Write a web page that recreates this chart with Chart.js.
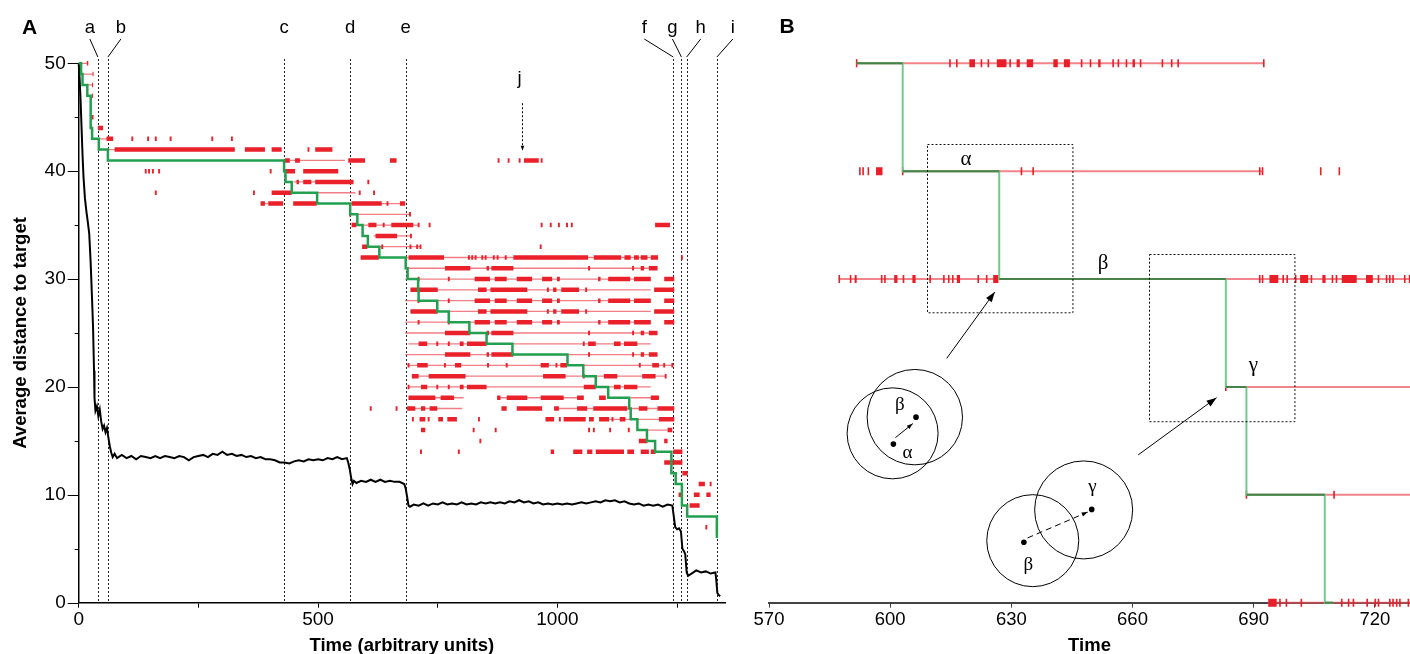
<!DOCTYPE html>
<html>
<head>
<meta charset="utf-8">
<script src="https://cdn.jsdelivr.net/npm/chart.js@4.4.1/dist/chart.umd.min.js"></script>
<style>
body { margin: 0; background: #fff; }
#wrapA { position: absolute; left: 0; top: 0; width: 740px; height: 654px; }
#wrapB { position: absolute; left: 740px; top: 0; width: 670px; height: 654px; }
</style>
</head>
<body>
<div id="wrapA"><canvas id="chartA" width="740" height="654"></canvas></div>
<div id="wrapB"><canvas id="chartB" width="670" height="654"></canvas></div>
<script>
//////// DATA, PANEL A ///////////////////////////////////
// average distance to target, [time, distance]
var traceA = [[0,50],[2,48.5],[4,46.5],[6,44],[8,41.5],[10,39.5],[13,37.5],[16,36.3],[19,35.3],[22,34.2],[25,31.5],[28,28],[30,25.5],[32,21.5],[33,19],[35,17.8],[38,18.2],[41,17.3],[44,17.9],[47,16.8],[50,16.1],[53,16.4],[56,15.8],[59,16.2],[62,15.3],[65,14.5],[68,13.9],[71,13.5],[75,13.8],
  [80,13.4],[90,13.7],[100,13.4],[110,13.6],[120,13.3],[130,13.6],[140,13.5],[150,13.4],[160,13.6],[170,13.4],[180,13.6],[190,13.5],[200,13.4],[210,13.6],[220,13.5],[230,13.2],[240,13.5],[250,13.6],[260,13.7],[270,13.5],[280,13.8],[290,13.7],[300,14.0],[310,13.7],[320,13.8],[330,13.6],[340,13.7],[350,13.5],[360,13.6],[370,13.4],[380,13.5],[390,13.3],[400,13.3],[410,13.2],[420,13.0],[430,13.0],[440,12.9],[450,13.1],[460,13.2],[470,13.1],[480,13.3],[490,13.2],[500,13.3],[510,13.2],[520,13.4],[530,13.3],[540,13.5],[550,13.3],[560,13.4],[563,13.0],[566,12.4],[569,11.6],[572,11.0],[575,11.3],
  [580,11.1],[590,11.3],[600,11.2],[610,11.4],[620,11.2],[630,11.4],[640,11.2],[650,11.3],[660,11.2],[670,11.2],[680,11.0],[683,10.6],[686,9.8],[689,9.0],[692,8.9],
  [700,9.1],[710,9.0],[720,9.2],[730,9.0],[740,9.2],[750,9.1],[760,9.3],[770,9.1],[780,9.2],[790,9.1],[800,9.3],[810,9.1],[820,9.2],[830,9.1],[840,9.3],[850,9.2],[860,9.3],[870,9.2],[880,9.3],[890,9.2],[900,9.4],[910,9.3],[920,9.5],[930,9.3],[940,9.4],[950,9.2],[960,9.3],[970,9.1],[980,9.2],[990,9.1],[1000,9.2],[1010,9.1],[1020,9.2],[1030,9.1],[1040,9.2],[1050,9.3],[1060,9.2],[1070,9.3],[1080,9.4],[1090,9.3],[1100,9.5],[1110,9.4],[1120,9.5],[1130,9.3],[1140,9.4],[1150,9.2],[1160,9.1],[1170,9.2],[1180,9.0],[1190,9.1],[1200,9.0],[1210,9.1],[1220,8.9],[1230,9.1],[1240,9.0],
  [1243,8.0],[1246,7.0],[1250,6.8],[1254,6.9],[1258,6.6],[1261,5.0],[1264,4.8],[1267,4.5],[1270,2.8],[1273,2.5],[1280,2.7],[1290,3.0],[1300,2.8],[1310,2.9],[1320,2.7],[1330,2.8],[1332,2.0],[1334,0.9],[1337,0.7],[1340,0.6]];

// best lineage (green): times of change and new level
var stepTimeA  = [0,5,8,18,25,28,42,61,429,432,445,498,567,582,593,604,628,683,687,709,710,749,773,816,852,906,1021,1054,1080,1106,1150,1153,1167,1187,1204,1238,1247,1260,1271,1333];
var stepLevelA = [50,49,48,47,44,43,42,41,40,39,38,37,36,35,34,33,32,31,30,29,28,27,26,25,24,23,22,21,20,19,18,17,16,15,14,12,11,9,8,6];

// red lineages: [level, start, end]
var linesA = [[50,0,19],[49,0,30],[48,7,30],[43,28,72],[42,40,326],[41,441,556],[40,469,542],[39,449,574],[38,442,578],[37,380,427],[37,567,682],[36,567,692],[35,571,710],[34,616,694],[33,592,714],[32,589,627],[32,683,1210],[31,682,1209],[30,682,1195],[29,693,1195],[28,682,1195],[27,693,1195],[26,682,1195],[25,682,1209],[24,689,1195],[23,682,1209],[22,686,1240],[21,696,1226],[20,689,1195],[19,689,804],[19,874,1055],[19,1153,1212],[18,686,801],[18,993,1244],[17,1108,1244],[16,1167,1230]];

// red marks: [level, [time or [from, to], ...]]
var marksA = [
  [50,[[17,20]]],
  [49,[[29,31]]],
  [48,[[28,30]]],
  [47,[[28,30]]],
  [45,[29]],
  [44,[[40,51]]],
  [43,[[58,72],112,145,161,192,279,320]],
  [42,[[75,326],[347,389],[403,424],480,[494,530]]],
  [41,[[431,441],[452,462],[563,598],[650,664],877,898,921,[930,961],967]],
  [40,[140,147,155,168,401,[431,452],[469,542]]],
  [39,[[455,460],[469,486],[494,574],605]],
  [38,[161,366,[403,445],587,617]],
  [37,[[380,389],[396,427],[448,497],[570,633],[643,647],[671,682]]],
  [36,[567,692]],
  [35,[[570,580],[605,622],637,[653,699],710,733,967,986,1003,1020,1030,[1204,1235]]],
  [34,[[620,665],694]],
  [33,[[592,603],634,693,707,714,965]],
  [32,[[589,627],[689,763],815,822,829,843,850,867,875,892,[908,1064],[1076,1133],[1140,1153],[1160,1170],[1174,1188],[1195,1210],1260]],
  [31,[[765,818],[852,857],[862,908],1066,1158,[1174,1181],[1191,1209]]],
  [30,[710,773,[827,859],[869,894],[915,947],[968,989],[999,1005],[1085,1090],[1106,1152],[1160,1195],[1223,1244]]],
  [29,[[693,750],[834,852],[860,937],980,[991,998],[1008,1045],1060,[1202,1244]]],
  [28,[710,773,[827,859],[869,894],[915,947],[968,989],[999,1005],[1085,1090],[1106,1152],[1160,1195],[1223,1244]]],
  [27,[[693,750],[834,852],[860,937],980,[991,998],[1008,1045],1060,[1202,1244]]],
  [26,[710,773,[827,859],[869,894],[915,947],[968,989],[999,1005],[1085,1090],[1106,1152],[1160,1195],[1223,1244]]],
  [25,[[765,818],[852,857],[862,908],1066,1158,[1174,1181],[1191,1209]]],
  [24,[[710,728],749,773,[796,804],[811,852],1055,[1064,1080],[1118,1132],[1139,1167]]],
  [23,[[765,818],[852,857],[862,908],1066,1158,[1174,1181],[1191,1209]]],
  [22,[689,[707,729],765,[786,799],855,894,[965,982],[996,1000],[1006,1020],1172,[1198,1212],1223,1240]],
  [21,[[696,710],[731,808],[970,1017],1055,[1097,1125],[1177,1205],1226]],
  [20,[689,[715,728],749,773,[796,804],[811,852],[1055,1080],[1118,1132],[1139,1167]]],
  [19,[[689,745],[756,784],[874,881],[894,937],[965,1013],[1041,1055],[1087,1101],[1195,1212]]],
  [18,[610,664,[686,703],[715,724],[733,749],[883,894],[915,968],[993,1003],[1041,1062],[1075,1146],[1170,1188],[1209,1244]]],
  [17,[698,[712,724],731,[751,761],[770,790],836,[975,993],1005,[1013,1059],[1066,1076],[1087,1108],1115,[1130,1142],[1212,1244]]],
  [16,[[715,724],825,871,1066,1076,1110,1149,[1230,1240]]],
  [15,[839,[1170,1188],[1223,1230]]],
  [14,[715,794,[986,993],[1033,1052],[1062,1073],[1080,1139],[1146,1160],[1174,1191],[1195,1205],[1242,1261]]],
  [13,[[1223,1261]]],
  [12,[[1261,1272]]],
  [11,[[1295,1308],1320]],
  [10,[[1253,1260],[1285,1297],[1311,1320]]],
  [9,[[1276,1297]]],
  [7,[1311,1333]]
];

var eventTimes = [40, 61, 429, 567, 683, 1242, 1259, 1270, 1333];
var eventNames = ['a', 'b', 'c', 'd', 'e', 'f', 'g', 'h', 'i'];
var eventShift = [-8, 13, 0, 0, 0, -29, -9, 14, 16];   // label offset from its line, px
var jTime = 927;

//////// DATA, PANEL B ///////////////////////////////////
var stepTimeB  = [591.7, 603.1, 627.0, 683.1, 688.2, 707.6, 709.7];
var stepLevelB = [50, 40, 30, 20, 10, 0, 0];

var linesB = [[50,591.7,692.5],[40,603.1,692.2],[30,587.2,729],[20,683.1,729],[10,688.2,729],[0,693.6,729]];

var marksB = [
  [50,[591.7,614.8,616.5,[619.6,621.0],622.6,624.3,[626.4,628.8],629.7,[631.3,632.1],[633.8,635.4],[640.4,641.5],[643.0,644.5],647.4,649.6,[651.5,652.1],655.2,656.5,658.5,[660,660.6],662.0,667.4,669.7,671.3,692.5]],
  [40,[592.5,593.3,594.6,[596.5,598.1],603.1,632.5,635.4,691.5,692.2,706.6,711.2]],
  [30,[[587.2,587.6],590.2,[591.2,591.7],597.9,598.7,601.2,601.6,603.3,605.7,606.1,609.9,613.3,614.5,615.5,[616.5,617.3],621.8,623.9,[625.5,626.8],691.5,692.2,[693.9,696.1],697.3,698.3,700.4,[701.5,703.5],704.3,707.2,707.6,709.5,710.5,[711.8,715.5],[717.8,719.5],720.9,722.9,723.7,724.5,727.4,728.6]],
  [20,[683.1]],
  [10,[688.2,709.9]],
  [0,[[693.6,695.7],696.5,698.1,701.8,711.8,713.5,714.7,718.1,720.1,720.9,723.7,724.5,725.4,726.2,728.3]]
];

// dotted boxes [x0, x1, yTop, yBottom] and their labels
var boxesB = [[609.2, 645.2, 42.5, 26.9], [664.1, 700.1, 32.3, 16.8]];
var greekB = [['α', 618.8, 41.1], ['β', 652.7, 31.4], ['γ', 689.9, 22.0]];

//////// HELPERS ///////////////////////////////////
function segData(rows) {
    var out = [];
    rows.forEach(function(r) {
        out.push({x: r[1], y: r[0]}, {x: r[2], y: r[0]}, {x: r[2], y: null});
    });
    return out;
}
function markData(rows, half) {
    var out = [];
    rows.forEach(function(r) {
        r[1].forEach(function(m) {
            var a = Array.isArray(m) ? m[0] : m - half;
            var b = Array.isArray(m) ? m[1] : m + half;
            out.push({x: a, y: r[0]}, {x: b, y: r[0]}, {x: b, y: null});
        });
    });
    return out;
}
function stepData(t, v) {
    return t.map(function(x, i) { return {x: x, y: v[i]}; });
}
function arrow(ctx, x0, y0, x1, y1, dash, head) {
    ctx.save();
    ctx.strokeStyle = '#000';
    ctx.fillStyle = '#000';
    ctx.lineWidth = 1;
    if (dash) ctx.setLineDash(dash);
    ctx.beginPath(); ctx.moveTo(x0, y0); ctx.lineTo(x1, y1); ctx.stroke();
    ctx.setLineDash([]);
    var a = Math.atan2(y1 - y0, x1 - x0), h = head || 9;
    ctx.beginPath();
    ctx.moveTo(x1, y1);
    ctx.lineTo(x1 - h * Math.cos(a) + h * 0.35 * Math.sin(a), y1 - h * Math.sin(a) - h * 0.35 * Math.cos(a));
    ctx.lineTo(x1 - h * Math.cos(a) - h * 0.35 * Math.sin(a), y1 - h * Math.sin(a) + h * 0.35 * Math.cos(a));
    ctx.closePath(); ctx.fill();
    ctx.restore();
}

var FONT = "'Liberation Sans', Arial, sans-serif";
var GREEK = "'Liberation Serif', 'DejaVu Serif', serif";
Chart.defaults.font.family = FONT;
Chart.defaults.color = '#000';

//////// PANEL A ///////////////////////////////////
var annotA = {
    id: 'annotA',
    beforeDatasetsDraw: function(chart) {
        var ctx = chart.ctx, xs = chart.scales.x, ys = chart.scales.y;
        ctx.save();
        // y ticks: long at labelled values, short in between
        ctx.strokeStyle = '#000';
        ctx.lineWidth = 1;
        ys.ticks.forEach(function(t) {
            var py = Math.round(ys.getPixelForValue(t.value)) + 0.5;
            var len = t.value % 10 === 0 ? 11 : 4;
            ctx.beginPath(); ctx.moveTo(ys.right - len, py); ctx.lineTo(ys.right, py); ctx.stroke();
        });
        ctx.setLineDash([2, 2]);
        ctx.strokeStyle = '#222';
        eventTimes.forEach(function(t) {
            var px = Math.round(xs.getPixelForValue(t)) + 0.5;
            ctx.beginPath(); ctx.moveTo(px, ys.getPixelForValue(50.4)); ctx.lineTo(px, ys.bottom); ctx.stroke();
        });
        ctx.restore();
    },
    afterDraw: function(chart) {
        var ctx = chart.ctx, xs = chart.scales.x, ys = chart.scales.y;
        ctx.save();
        ctx.fillStyle = '#000';
        ctx.strokeStyle = '#000';
        ctx.font = '18.5px ' + FONT;
        ctx.textAlign = 'center';
        ctx.textBaseline = 'alphabetic';
        eventTimes.forEach(function(t, i) {
            var px = xs.getPixelForValue(t);
            var lx = px + eventShift[i];
            ctx.fillText(eventNames[i], lx, 33);
            if (eventShift[i] !== 0) {
                ctx.lineWidth = 1;
                ctx.beginPath(); ctx.moveTo(lx, 39); ctx.lineTo(px, 57); ctx.stroke();
            }
        });
        // j marker
        var jx = xs.getPixelForValue(jTime);
        ctx.fillText('j', jx - 3, 84);
        arrow(ctx, jx, ys.getPixelForValue(46.3), jx, ys.getPixelForValue(41.9), [2, 2], 5);
        // panel letter
        ctx.font = 'bold 21px ' + FONT;
        ctx.fillText('A', 29.5, 34);
        ctx.restore();
    }
};

new Chart(document.getElementById('chartA'), {
    type: 'line',
    data: {
        datasets: [
            {data: stepData(stepTimeA, stepLevelA), stepped: 'before', borderColor: 'rgb(34,160,80)', borderWidth: 2.5, clip: 8},
            {data: traceA.map(function(p) { return {x: p[0], y: p[1]}; }), borderColor: '#000', borderWidth: 2, clip: 8},
            {data: markData(marksA, 2), borderColor: 'rgb(234,32,42)', borderWidth: 4.5, borderCapStyle: 'butt', clip: 8},
            {data: segData(linesA), borderColor: 'rgba(236,70,80,0.7)', borderWidth: 1.3, clip: 8}
        ]
    },
    options: {
        responsive: false,
        animation: false,
        events: [],
        elements: {point: {radius: 0}, line: {tension: 0, fill: false}},
        layout: {padding: {left: 0, right: 15, top: 63.3, bottom: 0}},
        plugins: {legend: {display: false}, tooltip: {enabled: false}},
        scales: {
            x: {
                type: 'linear', min: 0, max: 1350,
                afterFit: function(s) { s.height = 51.3; },
                ticks: {stepSize: 250, includeBounds: false, maxRotation: 0, padding: 1, font: {size: 19},
                        callback: function(v) { return v % 500 === 0 ? v : ''; }},
                grid: {drawOnChartArea: false, tickLength: 5, color: '#000'},
                border: {color: '#000', width: 1.5},
                title: {display: true, text: 'Time (arbitrary units)', font: {size: 18.5, weight: 'bold'}, padding: {top: 0, bottom: -3}}
            },
            y: {
                type: 'linear', min: 0, max: 50,
                afterFit: function(s) { s.width = 78.7; },
                ticks: {stepSize: 5, padding: 13, font: {size: 19},
                        callback: function(v) { return v % 10 === 0 ? v : ''; }},
                grid: {drawOnChartArea: false, drawTicks: false},
                border: {color: '#000', width: 1.5},
                title: {display: true, text: 'Average distance to target', font: {size: 18.5, weight: 'bold'}, padding: {top: 10, bottom: 0}}
            }
        }
    },
    plugins: [annotA]
});

//////// PANEL B ///////////////////////////////////
var annotB = {
    id: 'annotB',
    afterDatasetsDraw: function(chart) {
        var ctx = chart.ctx, xs = chart.scales.x, ys = chart.scales.y;
        function X(v) { return xs.getPixelForValue(v); }
        function Y(v) { return ys.getPixelForValue(v); }
        ctx.save();
        // dotted boxes
        ctx.setLineDash([2, 2]);
        ctx.strokeStyle = '#111';
        ctx.lineWidth = 1;
        boxesB.forEach(function(b) {
            ctx.strokeRect(Math.round(X(b[0])) + 0.5, Math.round(Y(b[2])) + 0.5, X(b[1]) - X(b[0]), Y(b[3]) - Y(b[2]));
        });
        ctx.setLineDash([]);
        ctx.fillStyle = '#000';
        ctx.textAlign = 'center';
        ctx.textBaseline = 'middle';
        ctx.font = '21px ' + GREEK;
        greekB.forEach(function(g) { ctx.fillText(g[0], X(g[1]), Y(g[2])); });

        // arrows from the sketches to the boxes
        arrow(ctx, X(614.0), Y(22.65), X(625.9), Y(28.8), null, 10);
        arrow(ctx, X(661.4), Y(13.7), X(680.8), Y(19.0), null, 10);

        // circle sketches
        ctx.lineWidth = 1;
        ctx.strokeStyle = '#000';
        [[600.6, 15.7, 45.5], [606.1, 17.2, 47.7], [635.3, 5.75, 46], [647.9, 8.6, 49]].forEach(function(c) {
            ctx.beginPath(); ctx.arc(X(c[0]), Y(c[1]), c[2], 0, Math.PI * 2); ctx.stroke();
        });
        [[600.8, 14.7], [606.4, 17.2], [633.1, 5.6], [649.9, 8.65]].forEach(function(d) {
            ctx.beginPath(); ctx.arc(X(d[0]), Y(d[1]), 2.8, 0, Math.PI * 2); ctx.fill();
        });
        arrow(ctx, X(601.3), Y(15.3), X(605.6), Y(16.6), null, 6);
        arrow(ctx, X(634.0), Y(6.0), X(648.9), Y(8.4), [6, 4], 6);
        ctx.font = '19px ' + GREEK;
        ctx.fillText('β', X(602.4), Y(18.3));
        ctx.fillText('α', X(604.3), Y(13.9));
        ctx.fillText('β', X(634.2), Y(3.5));
        ctx.fillText('γ', X(650.1), Y(10.75));

        ctx.font = 'bold 21px ' + FONT;
        ctx.textBaseline = 'alphabetic';
        ctx.fillText('B', 47, 33);
        ctx.restore();
    }
};

// dark green overlay for the flat parts of the lineage
var flatB = [];
for (var i = 0; i < stepTimeB.length - 1; i++) {
    flatB.push({x: stepTimeB[i], y: stepLevelB[i]}, {x: stepTimeB[i + 1], y: stepLevelB[i]}, {x: stepTimeB[i + 1], y: null});
}

new Chart(document.getElementById('chartB'), {
    type: 'line',
    data: {
        datasets: [
            {data: flatB, borderColor: 'rgb(72,130,72)', borderWidth: 2, clip: 10},
            {data: stepData(stepTimeB, stepLevelB), stepped: 'before', borderColor: 'rgb(110,205,140)', borderWidth: 2, clip: 10},
            {data: markData(marksB, 0.2), borderColor: 'rgb(232,30,40)', borderWidth: 8, borderCapStyle: 'butt', clip: 10},
            {data: segData(linesB), borderColor: 'rgba(236,80,90,0.7)', borderWidth: 2, clip: 10}
        ]
    },
    options: {
        responsive: false,
        animation: false,
        events: [],
        elements: {point: {radius: 0}, line: {tension: 0, fill: false}},
        layout: {padding: {left: 29, right: 0, top: 63.3, bottom: 0}},
        plugins: {legend: {display: false}, tooltip: {enabled: false}},
        scales: {
            x: {
                type: 'linear', min: 570, max: 728.7,
                afterFit: function(s) { s.height = 51.3; },
                ticks: {stepSize: 30, includeBounds: false, maxRotation: 0, padding: 1, font: {size: 18.5}},
                grid: {drawOnChartArea: false, tickLength: 5, color: '#444'},
                border: {color: '#444', width: 2},
                title: {display: true, text: 'Time', font: {size: 18.5, weight: 'bold'}, padding: {top: 0, bottom: -3}}
            },
            y: {type: 'linear', min: 0, max: 50, display: false}
        }
    },
    plugins: [annotB]
});
</script>
</body>
</html>
